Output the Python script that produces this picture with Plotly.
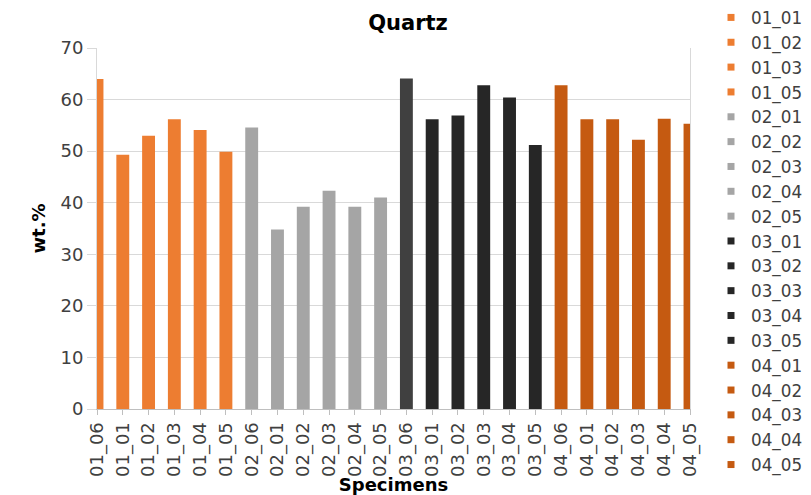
import plotly.graph_objects as go

# Specimen labels along the x axis, in plotting order
specimens = [
    "01_06", "01_01", "01_02", "01_03", "01_04", "01_05",
    "02_06", "02_01", "02_02", "02_03", "02_04", "02_05",
    "03_06", "03_01", "03_02", "03_03", "03_04", "03_05",
    "04_06", "04_01", "04_02", "04_03", "04_04", "04_05",
]
# Quartz content, wt.%
quartz = [
    64.0, 49.3, 53.0, 56.2, 54.1, 49.9,
    54.6, 34.8, 39.2, 42.3, 39.2, 41.0,
    64.1, 56.2, 56.9, 62.8, 60.4, 51.2,
    62.8, 56.2, 56.2, 52.2, 56.3, 55.3,
]
# Specimens listed in the legend
legend_entries = [
    "01_01", "01_02", "01_03", "01_05",
    "02_01", "02_02", "02_03", "02_04", "02_05",
    "03_01", "03_02", "03_03", "03_04", "03_05",
    "04_01", "04_02", "04_03", "04_04", "04_05",
]

# Colour per specimen series
SERIES_COLOURS = {"01": "#ED7D31", "02": "#A5A5A5", "03": "#262626", "04": "#C55A11"}
REFERENCE_COLOURS = {"03_06": "#404040"}


def colour_of(name):
    return REFERENCE_COLOURS.get(name, SERIES_COLOURS[name[:2]])


FONT = "DejaVu Sans"
TEXT = "#404040"
GRID = "#D9D9D9"

fig = go.Figure()

fig.add_trace(go.Bar(
    x=specimens,
    y=quartz,
    marker=dict(color=[colour_of(s) for s in specimens], line=dict(width=0)),
    showlegend=False,
    hoverinfo="x+y",
))

for name in legend_entries:
    fig.add_trace(go.Scatter(
        x=[None], y=[None],
        mode="markers",
        name=name,
        marker=dict(symbol="square", size=7, color=colour_of(name)),
    ))

fig.update_layout(
    width=811,
    height=495,
    margin=dict(l=97, r=121, t=48, b=86),
    paper_bgcolor="white",
    plot_bgcolor="white",
    bargap=0.5,
    font=dict(family=FONT, size=18, color=TEXT),
    title=dict(
        text="<b>Quartz</b>",
        font=dict(family=FONT, size=21, color="#000000"),
        x=408 / 811, xanchor="center", xref="container",
        y=0.955, yanchor="middle", yref="container",
    ),
    legend=dict(
        x=711 / 811, xanchor="left", xref="container",
        y=1.0, yanchor="top", yref="container",
        font=dict(family=FONT, size=16.8, color=TEXT),
        itemwidth=30,
        maxheight=495,
        bgcolor="rgba(0,0,0,0)",
    ),
    xaxis=dict(
        type="category",
        range=[0, len(specimens) - 1],
        tickangle=-90,
        tickfont=dict(family=FONT, size=18, color=TEXT),
        showgrid=False,
        showline=True, linecolor="#BFBFBF", linewidth=1,
        ticks="outside", ticklen=5, tickcolor="#BFBFBF",
        title=dict(text="<b>Specimens</b>", font=dict(family=FONT, size=18, color="#000000"), standoff=0),
        automargin=False,
        fixedrange=True,
    ),
    yaxis=dict(
        range=[0, 70],
        dtick=10,
        tickfont=dict(family=FONT, size=18, color=TEXT),
        showgrid=True, gridcolor=GRID, gridwidth=1,
        showline=True, linecolor=GRID, linewidth=1, mirror=True,
        ticks="outside", ticklen=9, tickcolor=GRID,
        zeroline=False,
        title=dict(text="<b>wt.%</b>", font=dict(family=FONT, size=18, color="#000000"), standoff=10),
        automargin=False,
        fixedrange=True,
    ),
)

fig.write_html("out.html")
